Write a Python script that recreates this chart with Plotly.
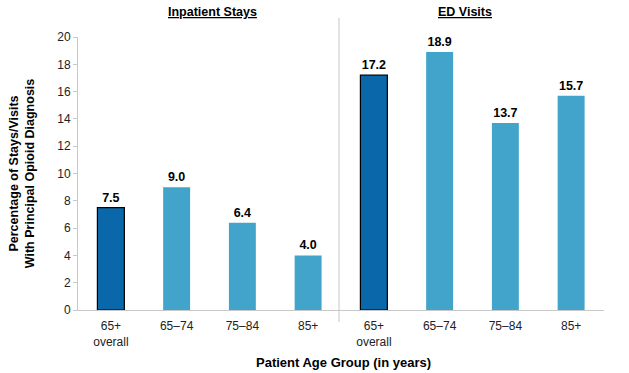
import plotly.graph_objects as go

categories = ["65+<br>overall", "65–74", "75–84", "85+", "65+<br>overall", "65–74", "75–84", "85+"]
inpatient_values = [7.5, 9.0, 6.4, 4.0]
ed_values = [17.2, 18.9, 13.7, 15.7]
panel_titles = ["Inpatient Stays", "ED Visits"]
y_ticks = [0, 2, 4, 6, 8, 10, 12, 14, 16, 18, 20]

values = inpatient_values + ed_values
xpos = list(range(len(values)))
dark = "#0A67A9"
light = "#43A4CB"
colors = [dark if i % 4 == 0 else light for i in xpos]
line_w = [1.2 if i % 4 == 0 else 0 for i in xpos]

fig = go.Figure()
fig.add_trace(go.Bar(
    x=xpos, y=values, width=0.41,
    marker=dict(color=colors, line=dict(color="black", width=line_w)),
    text=[f"{v:.1f}" for v in values], textposition="outside",
    texttemplate="<b>%{text}</b>",
    textfont=dict(family="Liberation Sans, Arial", size=12.5, color="black"),
    cliponaxis=False, hoverinfo="skip",
))

fig.update_layout(
    width=629, height=373,
    margin=dict(l=78, r=25, t=37, b=63),
    plot_bgcolor="white", paper_bgcolor="white",
    showlegend=False,
    font=dict(family="Liberation Sans, Arial", size=12, color="black"),
)
fig.update_xaxes(
    range=[-0.5, 7.5], tickvals=xpos, ticktext=categories,
    showline=True, linecolor="#C8C8C8", linewidth=1, ticks="", showgrid=False,
    tickfont=dict(size=12, color="#222"), ticklabelstandoff=5,
    zeroline=False,
)
fig.update_yaxes(
    range=[0, 20], tickvals=y_ticks, showline=True, linecolor="#C8C8C8", linewidth=1,
    ticks="outside", ticklen=4, tickcolor="#C8C8C8", showgrid=False, zeroline=False,
    tickfont=dict(size=12, color="#222"),
)
# divider
fig.add_shape(type="line", xref="x", yref="paper", x0=3.47, x1=3.47, y0=-0.044, y1=1.07,
              line=dict(color="#C8C8C8", width=1))
# panel titles
fig.add_annotation(x=1.55, xref="x", y=1.092, yref="paper", text="<b><u>" + panel_titles[0] + "</u></b>",
                   showarrow=False, font=dict(size=12.5), yanchor="middle")
fig.add_annotation(x=5.39, xref="x", y=1.092, yref="paper", text="<b><u>" + panel_titles[1] + "</u></b>",
                   showarrow=False, font=dict(size=12.5), yanchor="middle")
# axis titles
fig.add_annotation(xref="paper", yref="paper", x=-0.107, y=0.5,
                   text="<b>Percentage of Stays/Visits<br>With Principal Opioid Diagnosis</b>",
                   textangle=-90, showarrow=False, font=dict(size=12.5), xanchor="center", yanchor="middle")
fig.add_annotation(xref="paper", yref="paper", x=0.505, y=-0.194,
                   text="<b>Patient Age Group (in years)</b>",
                   showarrow=False, font=dict(size=13), xanchor="center", yanchor="middle")

fig.write_html("out.html", config={"displayModeBar": False},
               post_script="document.body.style.margin='0px';")
